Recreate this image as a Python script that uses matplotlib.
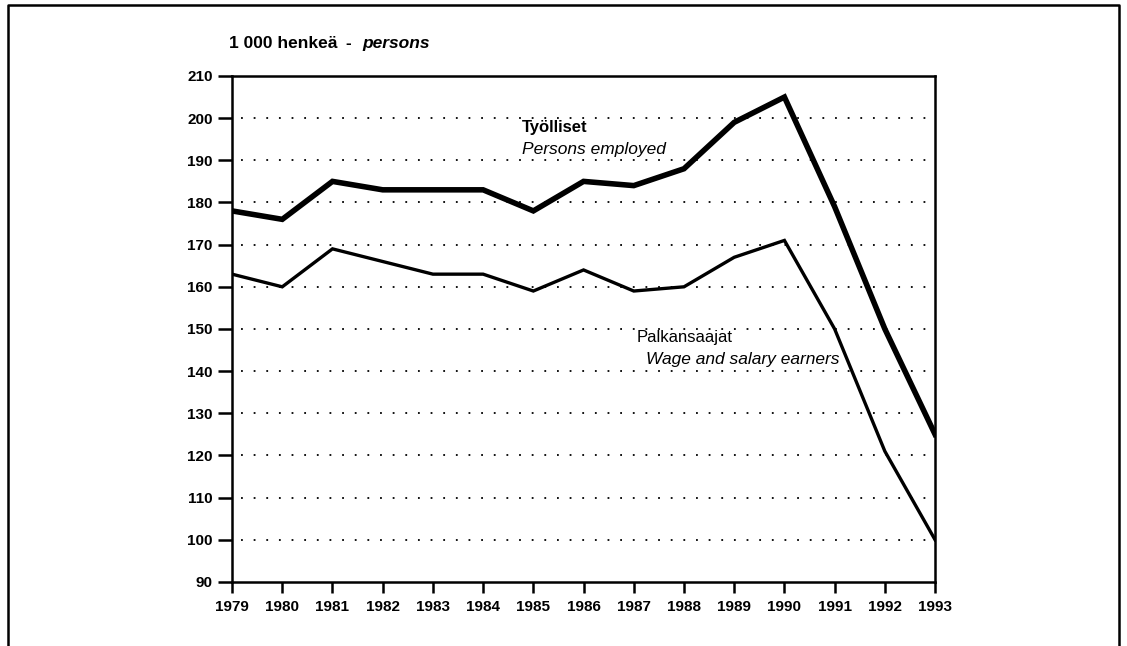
"""
Employment chart: persons employed vs. wage and salary earners, 1979-1993.
"""

import matplotlib
matplotlib.use("Agg")
import matplotlib.pyplot as plt
from matplotlib.lines import Line2D

years = list(range(1979, 1994))
employed = [178, 176, 185, 183, 183, 183, 178, 185, 184, 188, 199, 205, 179, 150, 125]
wage_earners = [163, 160, 169, 166, 163, 163, 159, 164, 159, 160, 167, 171, 150, 121, 100]
y_ticks = list(range(90, 211, 10))
grid_levels = list(range(100, 201, 10))

plt.rcParams['font.family'] = ['Liberation Sans', 'DejaVu Sans']

fig = plt.figure(figsize=(11.27, 6.46), dpi=100)
ax = fig.add_axes([0.2059, 0.0991, 0.6238, 0.7833])

# dotted horizontal guide lines
for lvl in grid_levels:
    ax.axhline(lvl, color='black', linewidth=1.3, linestyle=(2, (1, 6)), zorder=1)

ax.plot(years, employed, color='black', linewidth=4.0, solid_joinstyle='miter', zorder=3)
ax.plot(years, wage_earners, color='black', linewidth=2.4, solid_joinstyle='miter', zorder=3)

ax.set_xlim(1979, 1993)
ax.set_ylim(90, 210)
ax.set_xticks(years)
ax.set_yticks(y_ticks)
ax.tick_params(axis='both', direction='out', width=1.8, labelsize=11, colors='black')
ax.tick_params(axis='y', length=10, pad=4)
ax.tick_params(axis='x', length=8, pad=5)
for lbl in ax.get_xticklabels() + ax.get_yticklabels():
    lbl.set_fontweight('bold')
for side in ['left', 'right', 'top', 'bottom']:
    ax.spines[side].set_linewidth(1.8)

# series labels
ax.text(1984.78, 197.7, 'Työlliset', fontsize=12, fontweight='bold', va='center')
ax.text(1984.78, 192.5, 'Persons employed', fontsize=12.5, fontstyle='italic', va='center')
ax.text(1987.05, 147.9, 'Palkansaajat', fontsize=12, va='center')
ax.text(1987.25, 142.7, 'Wage and salary earners', fontsize=12.5, fontstyle='italic', va='center')

# unit label above the axis
fig.text(0.2032, 0.932, '1 000 henkeä', fontsize=12.5, fontweight='bold', va='center')
fig.text(0.3065, 0.932, '-', fontsize=12.5, fontweight='bold', va='center')
fig.text(0.3215, 0.932, 'persons', fontsize=12.5, fontstyle='italic', fontweight='bold', va='center')

# outer frame (open at the bottom)
frame_x = [0.0075, 0.0075, 0.9925, 0.9925]
frame_y = [0.0, 0.992, 0.992, 0.0]
fig.add_artist(Line2D(frame_x, frame_y, transform=fig.transFigure, color='black', linewidth=1.8))

fig.savefig('out.png', dpi=100)
